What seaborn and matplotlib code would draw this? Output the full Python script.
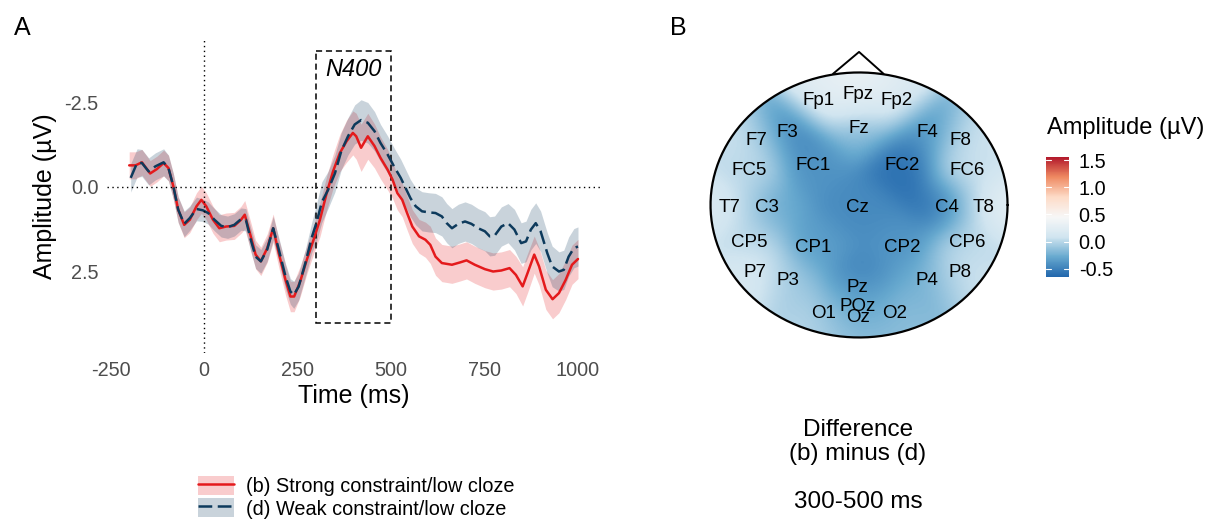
import numpy as np
import pandas as pd
import matplotlib
matplotlib.use('Agg')
import matplotlib.pyplot as plt
import seaborn as sns
from matplotlib.colors import LinearSegmentedColormap
from matplotlib.patches import Circle, Patch, Rectangle
from matplotlib.lines import Line2D

# ---- panel A: grand-average ERPs (µV) ----
t_b = [-200, -183, -166, -144, -126, -108, -95, -82, -69, -53, -38, -20, -7, 6, 24,
       41, 59, 81, 99, 109, 125, 138, 152, 169, 185, 200, 218, 231, 241, 257,
       275, 293, 310, 328, 345, 363, 381, 398, 407, 420, 438, 456, 472, 491, 504,
       517, 530, 543, 557, 575, 592, 605, 619, 636, 663, 685, 702, 724, 751, 773,
       795, 817, 834, 852, 865, 883, 896, 914, 932, 949, 967, 984, 1000]
amp_b = [-0.64, -0.64, -0.73, -0.40, -0.53, -0.71, -0.56, -0.02, 0.67, 1.12, 0.97, 0.57, 0.38, 0.57, 0.97,
         1.22, 1.17, 1.15, 0.97, 0.82, 1.46, 2.00, 2.20, 1.81, 1.22, 1.96, 2.75, 3.24, 3.24, 2.80,
         2.15, 1.56, 0.97, 0.18, -0.46, -1.00, -1.35, -1.60, -1.50, -1.16, -1.50, -1.21, -0.86, -0.51, -0.22,
         0.18, 0.38, 0.77, 1.17, 1.46, 1.56, 1.71, 2.06, 2.25, 2.30, 2.23, 2.17, 2.30, 2.43, 2.50,
         2.47, 2.40, 2.60, 2.94, 2.55, 2.00, 2.35, 3.04, 3.32, 3.14, 2.75, 2.30, 2.13]
ci_b = [0.40, 0.40, 0.38, 0.38, 0.38, 0.38, 0.38, 0.38, 0.38, 0.38, 0.38, 0.40, 0.40, 0.40, 0.40,
        0.40, 0.40, 0.40, 0.40, 0.42, 0.42, 0.42, 0.42, 0.42, 0.42, 0.42, 0.45, 0.45, 0.45, 0.45,
        0.42, 0.42, 0.50, 0.50, 0.50, 0.55, 0.62, 0.65, 0.68, 0.70, 0.68, 0.65, 0.62, 0.60, 0.55,
        0.50, 0.50, 0.50, 0.50, 0.50, 0.52, 0.55, 0.55, 0.55, 0.55, 0.55, 0.55, 0.55, 0.55, 0.55,
        0.55, 0.55, 0.55, 0.58, 0.58, 0.55, 0.55, 0.58, 0.58, 0.58, 0.58, 0.58, 0.58]

t_d = [-196, -179, -166, -148, -130, -108, -95, -82, -69, -53, -38, -20, -3, 11, 28,
       46, 63, 81, 99, 112, 125, 138, 152, 169, 185, 200, 218, 231, 240, 253,
       271, 288, 301, 315, 332, 350, 367, 385, 403, 420, 438, 456, 472, 491, 508,
       526, 539, 552, 566, 583, 601, 619, 636, 649, 663, 680, 698, 715, 733, 751,
       764, 777, 795, 813, 830, 848, 861, 874, 887, 900, 918, 931, 949, 962, 975,
       989, 1000]
amp_d = [-0.27, -0.71, -0.71, -0.46, -0.61, -0.73, -0.56, -0.02, 0.67, 1.09, 0.92, 0.65, 0.69, 0.77, 0.97,
         1.15, 1.19, 1.12, 0.95, 0.97, 1.56, 2.06, 2.20, 1.85, 1.22, 1.85, 2.65, 3.09, 3.19, 2.95,
         2.25, 1.50, 1.05, 0.45, 0.08, -0.40, -1.06, -1.50, -1.85, -1.98, -1.90, -1.65, -1.30, -0.96, -0.61,
         -0.27, 0.03, 0.33, 0.57, 0.72, 0.75, 0.77, 0.87, 1.07, 1.22, 1.09, 1.02, 1.09, 1.22, 1.31,
         1.46, 1.44, 1.17, 1.07, 1.26, 1.66, 1.61, 1.26, 1.07, 1.31, 1.96, 2.35, 2.50, 2.45, 2.06,
         1.81, 1.76]
ci_d = [0.42, 0.42, 0.40, 0.40, 0.40, 0.40, 0.38, 0.38, 0.38, 0.38, 0.36, 0.35, 0.33, 0.33, 0.33,
        0.33, 0.33, 0.33, 0.33, 0.33, 0.35, 0.35, 0.35, 0.35, 0.35, 0.35, 0.38, 0.38, 0.40, 0.40,
        0.40, 0.45, 0.55, 0.60, 0.55, 0.55, 0.55, 0.55, 0.58, 0.60, 0.60, 0.58, 0.55, 0.55, 0.55,
        0.55, 0.55, 0.55, 0.55, 0.58, 0.58, 0.58, 0.58, 0.58, 0.58, 0.58, 0.58, 0.58, 0.58, 0.58,
        0.58, 0.58, 0.58, 0.58, 0.60, 0.60, 0.60, 0.60, 0.60, 0.60, 0.60, 0.60, 0.58, 0.58, 0.58,
        0.58, 0.58]

labels = ['(b) Strong constraint/low cloze', '(d) Weak constraint/low cloze']
x_ticks = [-250, 0, 250, 500, 750, 1000]
y_ticks = [-2.5, 0.0, 2.5]
n400_ms = [300, 500]
n400_amp = [-4.02, 4.03]

# ---- panel B: difference (b) - (d), 300-500 ms, per electrode ----
electrodes = ['Fp1', 'Fpz', 'Fp2', 'F7', 'F3', 'Fz', 'F4', 'F8', 'FC5', 'FC1', 'FC2', 'FC6',
              'T7', 'C3', 'Cz', 'C4', 'T8', 'CP5', 'CP1', 'CP2', 'CP6',
              'P7', 'P3', 'Pz', 'P4', 'P8', 'O1', 'POz', 'Oz', 'O2']
el_x = [-0.27, -0.01, 0.25, -0.69, -0.48, 0.00, 0.46, 0.68, -0.74, -0.31, 0.29, 0.73,
        -0.87, -0.62, -0.01, 0.59, 0.84, -0.74, -0.31, 0.29, 0.73,
        -0.70, -0.48, -0.01, 0.46, 0.68, -0.24, -0.01, -0.01, 0.24]
el_y = [0.79, 0.83, 0.79, 0.49, 0.55, 0.58, 0.55, 0.49, 0.26, 0.30, 0.30, 0.26,
        -0.02, -0.02, -0.02, -0.02, -0.02, -0.28, -0.32, -0.32, -0.28,
        -0.51, -0.57, -0.62, -0.57, -0.51, -0.82, -0.77, -0.85, -0.82]
el_amp = [0.25, 0.35, 0.20, 0.10, -0.60, -0.20, -0.50, 0.10, 0.00, -0.40, -0.60, 0.05,
          0.20, -0.30, -0.45, -0.60, 0.30, 0.00, -0.35, -0.40, 0.00,
          0.20, -0.10, -0.50, -0.25, 0.10, 0.00, -0.45, -0.05, -0.15]
cbar_ticks = [-0.5, 0.0, 0.5, 1.0, 1.5]
amp_range = [-0.654, 1.56]

sns.set_style('white')
plt.rcParams['font.family'] = ['Liberation Sans', 'DejaVu Sans']
plt.rcParams['axes.unicode_minus'] = False
plt.rcParams['text.color'] = 'black'
plt.rcParams['axes.labelcolor'] = 'black'

fig = plt.figure(figsize=(12.16, 5.2), dpi=100)

# ================= panel A =================
ax = fig.add_axes([0.0878, 0.3212, 0.4069, 0.6033])
colors = {labels[0]: '#e41a1c', labels[1]: '#0d3a5c'}
dash = {labels[0]: '', labels[1]: (5.5, 2.2)}

df = pd.concat([
    pd.DataFrame({'time': t_b, 'amp': amp_b, 'cond': labels[0]}),
    pd.DataFrame({'time': t_d, 'amp': amp_d, 'cond': labels[1]}),
])

for t, a, c, lab in [(t_b, amp_b, ci_b, labels[0]), (t_d, amp_d, ci_d, labels[1])]:
    a = np.asarray(a)
    c = np.asarray(c)
    ax.fill_between(t, a - c, a + c, color=colors[lab], alpha=0.22, lw=0)

sns.lineplot(data=df, x='time', y='amp', hue='cond', style='cond',
             palette=colors, dashes=dash, lw=1.8, legend=False,
             estimator=None, errorbar=None, ax=ax)

ax.axhline(0, color='black', ls=(0, (1, 2.5)), lw=1)
ax.axvline(0, color='black', ls=(0, (1, 2.5)), lw=1)
ax.add_patch(Rectangle((n400_ms[0], n400_amp[0]), n400_ms[1] - n400_ms[0],
                       n400_amp[1] - n400_amp[0], fill=False, ec='black',
                       ls=(0, (4, 2.5)), lw=1.1))
ax.text(np.mean(n400_ms), -3.47, 'N400', fontsize=17, style='italic',
        ha='center', va='center')

ax.set_xlim(-260, 1063)
ax.set_ylim(4.91, -4.37)
ax.set_xticks(x_ticks)
ax.set_xticklabels([str(v) for v in x_ticks])
ax.set_yticks(y_ticks)
ax.set_yticklabels([f'{v:.1f}' for v in y_ticks])
ax.tick_params(length=3, width=0.8, color='#333333', labelcolor='#4d4d4d',
               labelsize=14.3, pad=3)
sns.despine(ax=ax, left=True, bottom=True)
ax.set_xlabel('Time (ms)', fontsize=18, labelpad=3)
ax.set_ylabel('Amplitude (µV)', fontsize=18, labelpad=5)

handles = []
for lab in labels:
    handles.append((Patch(facecolor=colors[lab], alpha=0.22, lw=0),
                    Line2D([], [], color=colors[lab], lw=1.8,
                           ls='-' if dash[lab] == '' else (0, dash[lab]))))
fig.legend(handles, labels, loc='upper left', bbox_to_anchor=(198 / 1216, 1 - 476 / 520),
           frameon=False, fontsize=14.3, handlelength=1.8, handleheight=1.1,
           handletextpad=0.6, labelspacing=0.1, borderpad=0, borderaxespad=0)

# ================= panel B =================
hax = fig.add_axes([0.5721, 0.3383, 0.2687, 0.5733])
hax.set_xlim(-1.1, 1.1)
hax.set_ylim(-1.05, 1.2)
hax.axis('off')

cmap = LinearSegmentedColormap.from_list(
    'rdbu', ['#2166ac', '#67a9cf', '#d1e5f0', '#f7f7f7', '#fddbc7', '#ef8a62', '#b2182b'])

ex, ey, ev = np.array(el_x), np.array(el_y), np.array(el_amp)
g = np.linspace(-1, 1, 300)
GX, GY = np.meshgrid(g, g)
d2 = (GX[..., None] - ex) ** 2 + (GY[..., None] - ey) ** 2
w = np.exp(-d2 / (2 * 0.15 ** 2)) + 1e-12
Z = (w * ev).sum(-1) / w.sum(-1)

im = hax.imshow(Z, extent=(-1, 1, -1, 1), origin='lower', cmap=cmap,
                vmin=amp_range[0], vmax=amp_range[1], aspect='auto',
                interpolation='bilinear')
im.set_clip_path(Circle((0, 0), 1, transform=hax.transData))

theta = np.linspace(0, 2 * np.pi, 400)
hax.plot(np.cos(theta), np.sin(theta), color='black', lw=1.6)
hax.plot([-0.175, 0, 0.165], [0.99, 1.155, 0.99], color='black', lw=1.4)

for name, x, y in zip(electrodes, el_x, el_y):
    hax.text(x, y, name, fontsize=13.5, ha='center', va='center')

cax = fig.add_axes([0.8602, 0.4673, 0.0189, 0.2308])
cb = fig.colorbar(im, cax=cax, ticks=cbar_ticks)
cb.outline.set_visible(False)
cb.ax.set_yticklabels([f'{v:.1f}' for v in cbar_ticks])
cax.tick_params(length=0, labelsize=14.3, pad=7, labelcolor='black')
for v in cbar_ticks:
    cax.plot([0, 0.2], [v, v], color='white', lw=0.8)
    cax.plot([0.8, 1], [v, v], color='white', lw=0.8)
fig.text(1047 / 1216, 1 - 128 / 520, 'Amplitude (µV)', fontsize=17, ha='left', va='center')

fig.text(858 / 1216, 1 - 466 / 520, 'Difference\n(b) minus (d)\n\n300-500 ms',
         fontsize=17.5, ha='center', va='center', linespacing=1.1)

fig.text(22 / 1216, 1 - 28 / 520, 'A', fontsize=18, ha='center', va='center')
fig.text(678 / 1216, 1 - 28 / 520, 'B', fontsize=18, ha='center', va='center')

fig.savefig('out.png', dpi=100)
